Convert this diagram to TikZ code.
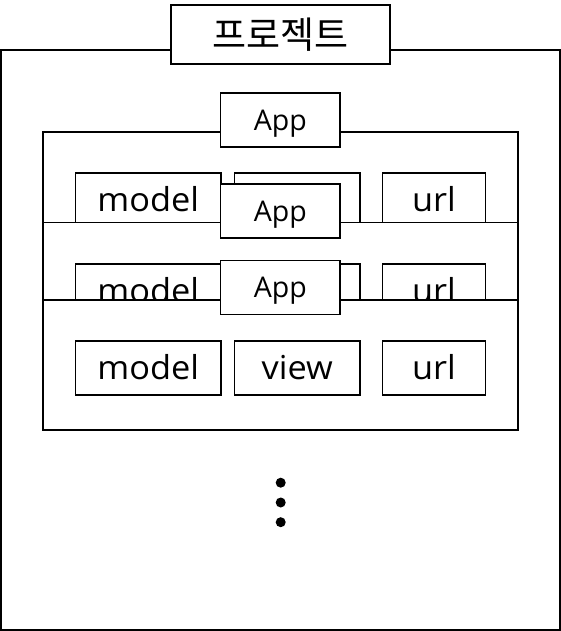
\documentclass[tikz,border=0pt]{standalone}
\usepackage{fontspec}
\setmainfont{Open Sans}
\newfontfamily\hangul{Noto Sans CJK KR}
\newfontfamily\partfont{Open Sans}[FakeStretch=1.04]
\usepackage{tikz}
\usetikzlibrary{shapes.geometric}

\begin{document}
\begin{tikzpicture}[x=1pt, y=-1pt]
    \tikzstyle{box}   = [rectangle, draw=black, line width=1.8pt, fill=white, inner sep=0pt]
    \tikzstyle{panel} = [box, minimum width=475]
    \tikzstyle{part}  = [box, minimum height=54, text height=22pt, text depth=0pt, font=\partfont\fontsize{33}{33}\selectfont]
    \tikzstyle{app}   = [box, minimum width=119.5, minimum height=54, text depth=0pt, font=\fontsize{28.5}{28.5}\selectfont]
    \tikzstyle{dot}   = [circle, fill=black, minimum size=10, inner sep=0pt]
    \useasboundingbox (0,0) rectangle (561,631);
    \node (proj) [box, minimum width=559, minimum height=580] at (280.5, 340) {};
    \node (title) [box, minimum width=219, minimum height=59, font=\hangul\fontsize{37}{37}\selectfont] at (280.5, 34.5) {프로젝트};
    % first app
    \node (p1) [panel, minimum height=298] at (280.5, 281) {};
    \node (m1) [part, minimum width=145.5] at (148.25, 200.3) {model};
    \node (v1) [part, minimum width=125.5] at (297.25, 200.3) {};
    \node (u1) [part, minimum width=103]   at (434, 200.3)    {url};
    \node (a1) [app] at (280.3, 120) {App};
    % second app
    \node (p2) [panel, minimum height=207.5] at (280.5, 326.25) {};
    \node (m2) [part, minimum width=145.5] at (148.25, 291) {model};
    \node (v2) [part, minimum width=125.5] at (297.25, 291) {};
    \node (u2) [part, minimum width=103]   at (434, 291)    {url};
    \node (a2) [app] at (280.3, 211) {App};
    % third app
    \node (p3) [panel, minimum height=130] at (280.5, 365) {};
    \node (m3) [part, minimum width=145.5] at (148.25, 368) {model};
    \node (v3) [part, minimum width=125.5] at (297.25, 368) {view};
    \node (u3) [part, minimum width=103]   at (434, 368)    {url};
    \node (a3) [app] at (280.3, 287.5) {App};
    % more apps
    \node (d1) [dot] at (280.7, 482.7) {};
    \node (d2) [dot] at (280.7, 502.5) {};
    \node (d3) [dot] at (280.7, 522.2) {};
\end{tikzpicture}
\end{document}
